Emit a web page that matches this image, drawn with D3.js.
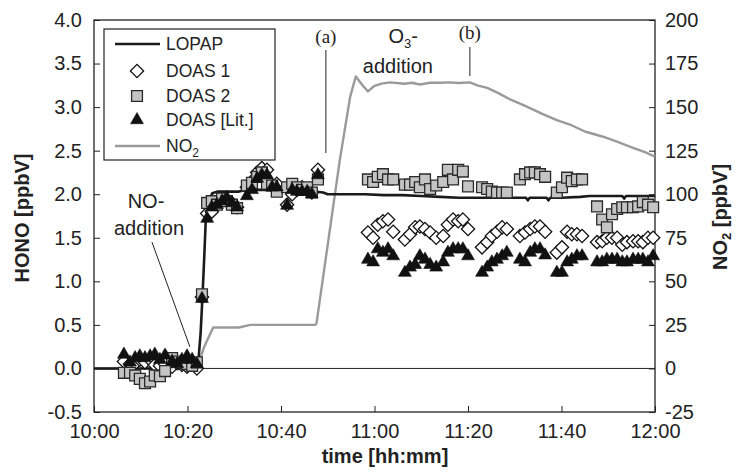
<!DOCTYPE html>
<html>
<head>
<meta charset="utf-8">
<script src="https://cdn.jsdelivr.net/npm/d3@7"></script>
<style>
  body { margin: 0; background: #fff; }
  svg { font-family: "Liberation Sans", Arial, sans-serif; }
</style>
</head>
<body>
<svg id="chart" width="736" height="473"></svg>
<script>
// all times are minutes after 10:00
var lopapTime = [0, 22.2, 22.8, 23.2, 23.6, 23.9, 24.5, 25.3, 26.5, 31, 32.5, 38, 42, 46, 49, 50, 54, 58, 62, 66, 70, 74, 78, 82, 86, 90,
                 92.4, 92.8, 93.2, 96.8, 97.2, 97.6, 100, 104, 106, 110, 113, 113.4, 113.8, 117, 120];
var lopapHono = [0, 0, 0.4, 0.82, 1.3, 1.7, 1.92, 2.01, 2.03, 2.03, 2.05, 2.05, 2.05, 2.04, 2.02, 2.0, 2.0, 2.0, 1.99, 1.99, 1.98, 1.97, 1.96, 1.96, 1.96, 1.96,
                 1.96, 1.93, 1.96, 1.96, 1.93, 1.96, 1.96, 1.97, 1.98, 1.98, 1.98, 1.95, 1.98, 1.98, 1.98];

var no2Time = [0, 22, 22.3, 23.5, 25.5, 31, 33.4, 40, 47.3, 47.6, 52.6, 54.8, 56, 57.3, 58.6, 59.9, 61.5, 63.3, 66.5, 68, 69.7, 71.9, 74, 76.1, 78, 80.4,
               82, 84.1, 86.5, 89, 92, 96, 99, 101.8, 105, 108.9, 112, 115.3, 118, 120];
var no2Value = [0, 0, 2, 12, 23.5, 23.5, 25, 25, 25, 26, 120, 156, 167.6, 163, 159, 162, 163.5, 164.2, 163.4, 164, 163, 164, 164, 164.2, 163.8, 164.2,
                162.5, 161, 158, 154.4, 151, 146, 142.5, 140, 136, 133, 130, 126.6, 124, 121.5];

var doasTime = [6.4, 7.7, 8.8, 9.8, 10.9, 12.0, 13.0, 14.1, 15.2, 16.7, 17.8, 18.8, 19.9, 21.0, 22.0, 23.1,
                24.2, 25.2, 26.3, 27.4, 28.4, 29.5, 30.6, 32.7, 33.8, 34.9, 35.9, 37.0, 38.1, 39.1, 41.3, 42.4, 43.4, 44.5, 45.6, 46.6, 47.9,
                58.6, 59.7, 60.7, 61.8, 62.9, 64.0, 66.5, 67.6, 68.7, 69.7, 70.8, 71.9, 73.2, 74.7, 75.7, 76.8, 77.9, 78.9, 80.0,
                83.0, 84.1, 85.1, 86.2, 87.3, 88.3, 91.1, 92.2, 93.3, 94.3, 95.4, 96.5, 99.0, 100.1, 101.2, 102.2, 103.3, 104.4,
                107.6, 108.7, 109.7, 110.8, 111.9, 113.0, 114.0, 115.3, 116.4, 117.4, 118.5, 119.6];
var doas1 = [0.08, 0.05, 0.06, 0.10, 0.07, 0.10, 0.04, 0.03, 0.05, 0.02, 0.06, 0.04, 0.02, 0.06, 0.00, 0.82,
             1.78, 1.80, 1.90, 1.95, 1.93, 1.90, 1.85, 2.08, 2.15, 2.25, 2.30, 2.28, 2.10, 2.12, 1.88, 2.00, 2.05, 2.08, 2.05, 2.02, 2.28,
             1.56, 1.50, 1.65, 1.69, 1.71, 1.57, 1.48, 1.54, 1.62, 1.63, 1.60, 1.56, 1.50, 1.52, 1.65, 1.71, 1.69, 1.71, 1.60,
             1.39, 1.45, 1.52, 1.57, 1.62, 1.60, 1.52, 1.56, 1.60, 1.63, 1.63, 1.57, 1.33, 1.39, 1.57, 1.54, 1.54, 1.52,
             1.45, 1.46, 1.50, 1.50, 1.50, 1.42, 1.45, 1.46, 1.46, 1.45, 1.50, 1.50];
var doas2 = [-0.05, -0.05, -0.08, -0.12, -0.17, -0.15, -0.08, -0.09, -0.03, 0.12, 0.08, 0.06, 0.05, 0.03, 0.07, 0.85,
             1.90, 1.92, 1.88, 1.95, 1.92, 1.88, 1.84, 2.10, 2.13, 2.20, 2.25, 2.12, 2.10, 2.03, 2.08, 2.12, 2.08, 2.05, 2.08, 2.02, 2.17,
             2.17, 2.14, 2.20, 2.23, 2.17, 2.17, 2.11, 2.11, 2.14, 2.08, 2.17, 2.06, 2.10, 2.14, 2.28, 2.17, 2.28, 2.26, 2.09,
             2.08, 2.06, 2.03, 2.02, 2.02, 2.02, 2.17, 2.23, 2.25, 2.25, 2.23, 2.20, 2.02, 2.08, 2.19, 2.15, 2.17, 2.17,
             1.86, 1.71, 1.62, 1.77, 1.83, 1.85, 1.85, 1.85, 1.86, 1.91, 1.88, 1.85];
var doasLit = [0.16, 0.07, 0.12, 0.14, 0.12, 0.14, 0.16, 0.10, 0.15, 0.08, 0.05, 0.10, 0.14, 0.10, 0.05, 0.80,
               1.72, 1.85, 1.88, 1.92, 1.96, 1.90, 1.85, 1.98, 2.05, 2.18, 2.22, 2.22, 2.08, 2.08, 1.87, 2.05, 2.03, 2.03, 2.03, 2.00, 2.22,
               1.25, 1.22, 1.37, 1.33, 1.37, 1.29, 1.10, 1.16, 1.19, 1.29, 1.25, 1.19, 1.16, 1.22, 1.33, 1.37, 1.37, 1.37, 1.29,
               1.10, 1.16, 1.22, 1.25, 1.29, 1.33, 1.25, 1.22, 1.33, 1.37, 1.37, 1.30, 1.10, 1.10, 1.22, 1.25, 1.29, 1.29,
               1.22, 1.22, 1.25, 1.25, 1.25, 1.22, 1.22, 1.25, 1.25, 1.25, 1.22, 1.29];

var timeTicks = [0, 20, 40, 60, 80, 100, 120];
var honoTicks = [-0.5, 0, 0.5, 1, 1.5, 2, 2.5, 3, 3.5, 4];
var no2Ticks = [-25, 0, 25, 50, 75, 100, 125, 150, 175, 200];
var legendLabels = ["LOPAP", "DOAS 1", "DOAS 2", "DOAS [Lit.]", "NO"];

var svg = d3.select("#chart"),
    margin = {top: 20, right: 81, bottom: 61, left: 94},
    width = +svg.attr("width") - margin.left - margin.right,
    height = +svg.attr("height") - margin.top - margin.bottom,
    g = svg.append("g").attr("transform", "translate(" + margin.left + "," + margin.top + ")");

var x = d3.scaleLinear().domain([0, 120]).range([0, width]);
var y = d3.scaleLinear().domain([-0.5, 4]).range([height, 0]);
var y2 = d3.scaleLinear().domain([-25, 200]).range([height, 0]);

function hhmm(m) {
  var h = 10 + Math.floor(m / 60), mm = m % 60;
  return h + ":" + (mm < 10 ? "0" : "") + mm;
}

// axes, ticks point inwards
var xAxis = g.append("g").attr("transform", "translate(0," + height + ")")
    .call(d3.axisBottom(x).tickValues(timeTicks).tickSizeInner(-6).tickSizeOuter(0).tickPadding(12).tickFormat(hhmm));
var yAxis = g.append("g")
    .call(d3.axisLeft(y).tickValues(honoTicks).tickSizeInner(-6).tickSizeOuter(0).tickPadding(12)
      .tickFormat(function(d) { return d.toFixed(1); }));
var y2Axis = g.append("g").attr("transform", "translate(" + width + ",0)")
    .call(d3.axisRight(y2).tickValues(no2Ticks).tickSizeInner(-6).tickSizeOuter(0).tickPadding(10)
      .tickFormat(function(d) { return String(d); }));

[xAxis, yAxis, y2Axis].forEach(function(a) {
  a.attr("font-family", null).attr("font-size", null);
  a.selectAll("text").attr("font-size", "20px").attr("fill", "#222");
  a.selectAll("line").attr("stroke", "#222");
  a.select(".domain").remove();
});

// frame and zero line
g.append("rect").attr("width", width).attr("height", height)
    .attr("fill", "none").attr("stroke", "#222").attr("stroke-width", 1.3);
g.append("line").attr("x1", 0).attr("x2", width).attr("y1", y(0)).attr("y2", y(0))
    .attr("stroke", "#222").attr("stroke-width", 1);

// lines
var no2Line = d3.line().x(function(d, i) { return x(no2Time[i]); }).y(function(d) { return y2(d); });
var lopapLine = d3.line().x(function(d, i) { return x(lopapTime[i]); }).y(function(d) { return y(d); });

g.append("path").datum(no2Value).attr("d", no2Line)
    .attr("fill", "none").attr("stroke", "#9a9a9a").attr("stroke-width", 2.4).attr("stroke-linejoin", "round");
g.append("path").datum(lopapHono).attr("d", lopapLine)
    .attr("fill", "none").attr("stroke", "#1a1a1a").attr("stroke-width", 2.6).attr("stroke-linejoin", "round");

// markers
var diamond = d3.symbol().type(d3.symbolSquare).size(88)(),
    square = d3.symbol().type(d3.symbolSquare).size(118)(),
    triangle = d3.symbol().type(d3.symbolTriangle).size(72)();

g.append("g").selectAll("path").data(doas1).enter().append("path")
    .attr("d", diamond)
    .attr("transform", function(d, i) { return "translate(" + x(doasTime[i]) + "," + y(d) + ") rotate(45)"; })
    .attr("fill", "#fff").attr("stroke", "#111").attr("stroke-width", 1.3);

g.append("g").selectAll("path").data(doas2).enter().append("path")
    .attr("d", square)
    .attr("transform", function(d, i) { return "translate(" + x(doasTime[i]) + "," + y(d) + ")"; })
    .attr("fill", "#c4c4c4").attr("stroke", "#2a2a2a").attr("stroke-width", 1.3);

g.append("g").selectAll("path").data(doasLit).enter().append("path")
    .attr("d", triangle)
    .attr("transform", function(d, i) { return "translate(" + x(doasTime[i]) + "," + y(d) + ")"; })
    .attr("fill", "#111").attr("stroke", "#111").attr("stroke-width", 0.6);

// annotations
var serif = "'Liberation Serif', 'Times New Roman', serif";
g.append("line").attr("x1", x(12.4)).attr("y1", y(1.45)).attr("x2", x(20.5)).attr("y2", y(0.25))
    .attr("stroke", "#222").attr("stroke-width", 1);
g.append("text").attr("x", 52).attr("y", 188).attr("text-anchor", "middle")
    .attr("font-size", "20px").attr("fill", "#222").text("NO-");
g.append("text").attr("x", 55).attr("y", 215).attr("text-anchor", "middle")
    .attr("font-size", "20px").attr("fill", "#222").text("addition");

g.append("line").attr("x1", x(49.6)).attr("x2", x(49.6)).attr("y1", 30).attr("y2", 133)
    .attr("stroke", "#222").attr("stroke-width", 1);
g.append("text").attr("x", x(49.6)).attr("y", 23).attr("text-anchor", "middle")
    .attr("font-family", serif).attr("font-size", "19px").attr("fill", "#222").text("(a)");

g.append("line").attr("x1", x(80.4)).attr("x2", x(80.4)).attr("y1", 27).attr("y2", 56)
    .attr("stroke", "#222").attr("stroke-width", 1);
g.append("text").attr("x", x(80.4)).attr("y", 19).attr("text-anchor", "middle")
    .attr("font-family", serif).attr("font-size", "19px").attr("fill", "#222").text("(b)");

var o3 = g.append("text").attr("x", x(63)).attr("y", 23).attr("font-size", "20px").attr("fill", "#222");
o3.append("tspan").text("O");
o3.append("tspan").attr("dy", 5).attr("font-size", "13px").text("3");
o3.append("tspan").attr("dy", -5).text("-");
g.append("text").attr("x", x(65)).attr("y", 53).attr("text-anchor", "middle")
    .attr("font-size", "20px").attr("fill", "#222").text("addition");

// legend
var legend = g.append("g").attr("transform", "translate(10,9)");
legend.append("rect").attr("width", 171).attr("height", 131)
    .attr("fill", "#fff").attr("stroke", "#222").attr("stroke-width", 1.2);

var rows = legend.selectAll("g.row").data(legendLabels).enter().append("g")
    .attr("class", "row")
    .attr("transform", function(d, i) { return "translate(0," + [15, 42, 67, 91, 117][i] + ")"; });

rows.append("text").attr("x", 62).attr("dy", "0.36em")
    .attr("font-size", "17.5px").attr("fill", "#222")
    .each(function(d) {
      var t = d3.select(this);
      t.append("tspan").text(d);
      if (d == "NO") t.append("tspan").attr("dy", 5).attr("font-size", "12px").text("2");
    });

rows.each(function(d, i) {
  var r = d3.select(this);
  if (i == 0 || i == 4) {
    r.append("line").attr("x1", 11).attr("x2", 56).attr("stroke", i == 0 ? "#1a1a1a" : "#9a9a9a").attr("stroke-width", 2.6);
  } else if (i == 1) {
    r.append("path").attr("d", diamond).attr("transform", "translate(33,0) rotate(45)")
        .attr("fill", "#fff").attr("stroke", "#111").attr("stroke-width", 1.3);
  } else if (i == 2) {
    r.append("path").attr("d", square).attr("transform", "translate(33,0)")
        .attr("fill", "#c4c4c4").attr("stroke", "#2a2a2a").attr("stroke-width", 1.3);
  } else {
    r.append("path").attr("d", triangle).attr("transform", "translate(33,0)")
        .attr("fill", "#111").attr("stroke", "#111").attr("stroke-width", 0.6);
  }
});

// axis titles
svg.append("text").attr("transform", "translate(29,218) rotate(-90)").attr("text-anchor", "middle")
    .attr("font-size", "20px").attr("font-weight", "bold").attr("fill", "#222").text("HONO [ppbV]");

var t2 = svg.append("text").attr("transform", "translate(727,217) rotate(-90)").attr("text-anchor", "middle")
    .attr("font-size", "20px").attr("font-weight", "bold").attr("fill", "#222");
t2.append("tspan").text("NO");
t2.append("tspan").attr("dy", 4).attr("font-size", "13px").text("2");
t2.append("tspan").attr("dy", -4).text(" [ppbV]");

svg.append("text").attr("x", 385).attr("y", 463).attr("text-anchor", "middle")
    .attr("font-size", "20px").attr("font-weight", "bold").attr("fill", "#222").text("time [hh:mm]");
</script>
</body>
</html>
